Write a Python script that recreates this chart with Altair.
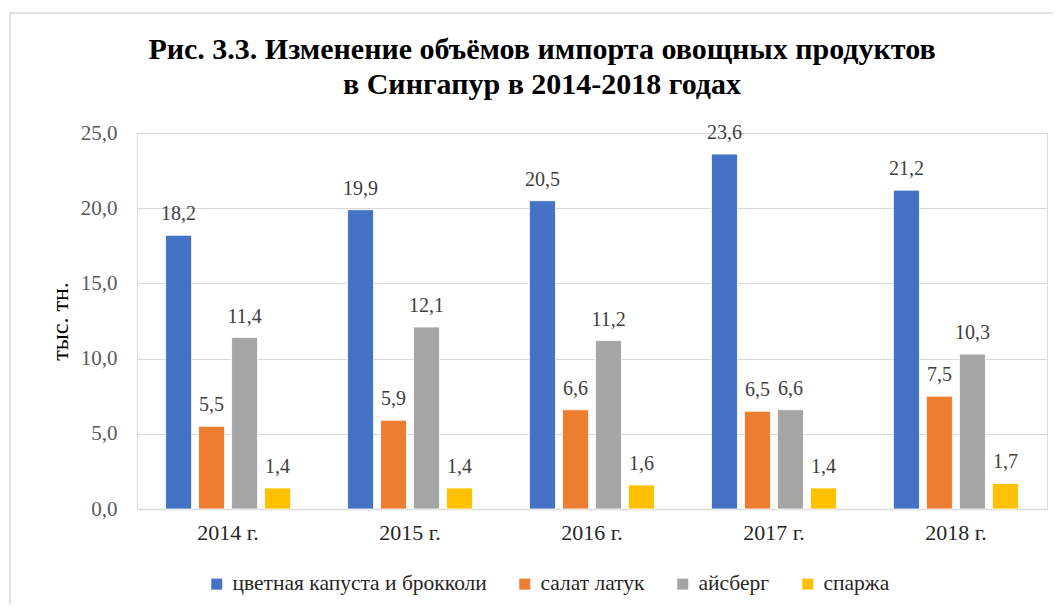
import altair as alt
import pandas as pd

years = ["2014 г.", "2015 г.", "2016 г.", "2017 г.", "2018 г."]
series = ["цветная капуста и брокколи", "салат латук", "айсберг", "спаржа"]
cauliflower = [18.2, 19.9, 20.5, 23.6, 21.2]
lettuce = [5.5, 5.9, 6.6, 6.5, 7.5]
iceberg = [11.4, 12.1, 11.2, 6.6, 10.3]
asparagus = [1.4, 1.4, 1.6, 1.4, 1.7]
colors = ["#4472C4", "#ED7D31", "#A5A5A5", "#FFC000"]

rows = []
for name, vals in zip(series, [cauliflower, lettuce, iceberg, asparagus]):
    for y, v in zip(years, vals):
        rows.append({"year": y, "series": name, "value": v,
                     "label": f"{v:.1f}".replace(".", ",")})
df = pd.DataFrame(rows)

FONT = "'Liberation Serif', 'Times New Roman', serif"
W, H = 910, 376

x = alt.X("year:N", sort=years, title=None,
          scale=alt.Scale(paddingInner=0.313, paddingOuter=0.157),
          axis=alt.Axis(labelAngle=0, labelFont=FONT, labelFontSize=22,
                        labelColor="#262626", labelPadding=13, ticks=False,
                        domainColor="#d9d9d9", domainWidth=1.5, grid=False))
xo = alt.XOffset("series:N", sort=series,
                 scale=alt.Scale(paddingInner=0.212, paddingOuter=0))
y = alt.Y("value:Q", title="тыс. тн.",
          scale=alt.Scale(domain=[0, 25], nice=False),
          axis=alt.Axis(values=[0, 5, 10, 15, 20, 25],
                        labelExpr="replace(format(datum.value, '.1f'), '.', ',')",
                        labelFont=FONT, labelFontSize=21, labelColor="#595959",
                        labelPadding=20, ticks=False, domain=False,
                        gridColor="#d9d9d9", gridWidth=1,
                        titleFont=FONT, titleFontSize=24, titleFontWeight="normal",
                        titleColor="#000000", titleAngle=-90,
                        titleX=-77, titleY=H / 2, titleAlign="center",
                        titleBaseline="middle"))
color = alt.Color("series:N", sort=series,
                  scale=alt.Scale(domain=series, range=colors),
                  legend=alt.Legend(title=None, orient="none", legendX=69,
                                    legendY=440, direction="horizontal",
                                    symbolType="square", symbolSize=121,
                                    symbolStrokeWidth=0, labelFont=FONT,
                                    labelFontSize=21.5, labelColor="#262626",
                                    labelOffset=5, columnPadding=27,
                                    labelLimit=500))

base = alt.Chart(df).encode(x=x, xOffset=xo)
bars = base.mark_bar(stroke="white", strokeWidth=0.8).encode(y=y, color=color)
labels = base.mark_text(dy=-15, font=FONT, fontSize=20, color="#404040",
                        baseline="alphabetic").encode(y="value:Q", text="label:N")

border = alt.Chart(pd.DataFrame({"k": [0]})).mark_rect(
    fill=None, stroke="#d9d9d9", strokeWidth=1.5).encode(
    x=alt.value(-127), x2=alt.value(940), y=alt.value(-120), y2=alt.value(500))

chart = alt.layer(border, bars, labels).properties(
    width=W, height=H,
    title=alt.TitleParams(
        ["Рис. 3.3. Изменение объёмов импорта овощных продуктов",
         "в Сингапур в 2014-2018 годах"],
        font=FONT, fontSize=30, fontWeight="bold", color="#000000",
        anchor="middle", frame="group", dx=-50, offset=0, dy=88,
        lineHeight=35),
    autosize=alt.AutoSizeParams(type="none"),
    padding={"left": 129, "top": 125, "right": 6, "bottom": 95},
).configure_view(stroke=None).configure(background="white")

chart.save("out.html", embed_options={"renderer": "svg", "actions": False})
